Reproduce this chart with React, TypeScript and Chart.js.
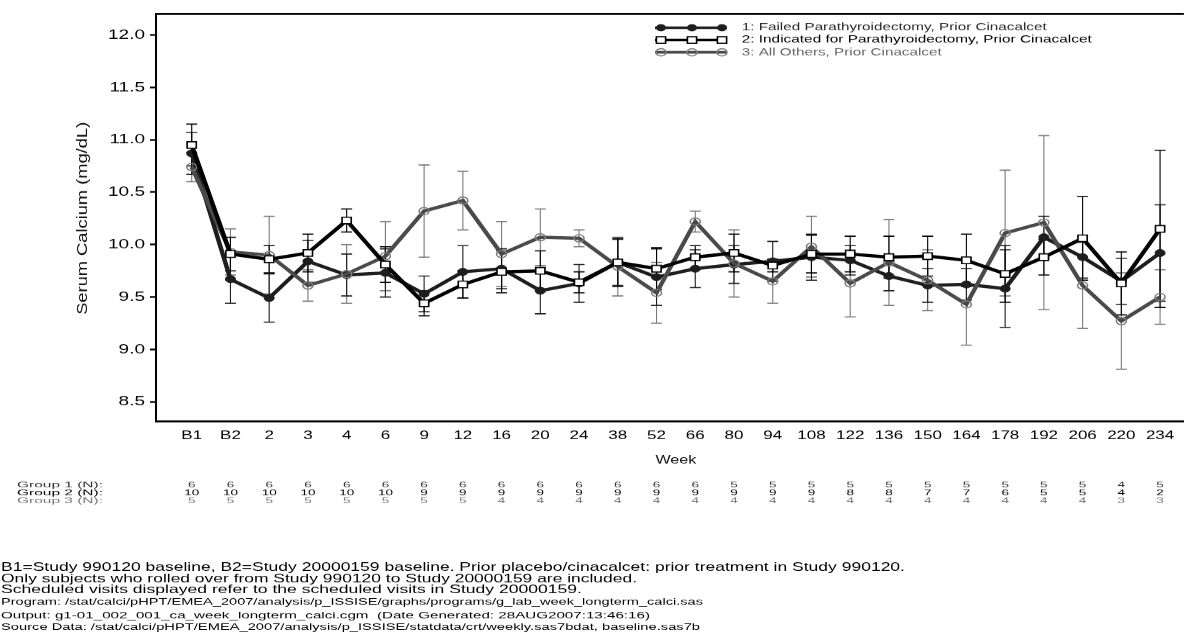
import React, { useEffect, useRef } from 'react';
import { Chart, registerables } from 'chart.js';

Chart.register(...registerables);

// ---------------- data ----------------
const weekLabels = ['B1', 'B2', '2', '3', '4', '6', '9', '12', '16', '20', '24', '38', '52', '66', '80', '94', '108', '122', '136', '150', '164', '178', '192', '206', '220', '234'];

const group1Mean = [10.87, 9.67, 9.49, 9.84, 9.71, 9.73, 9.53, 9.74, 9.77, 9.56, 9.63, 9.83, 9.69, 9.77, 9.81, 9.84, 9.88, 9.85, 9.70, 9.61, 9.62, 9.58, 10.07, 9.88, 9.65, 9.92];
const group2Mean = [10.95, 9.91, 9.86, 9.92, 10.23, 9.81, 9.44, 9.62, 9.74, 9.75, 9.64, 9.83, 9.77, 9.88, 9.92, 9.80, 9.91, 9.91, 9.88, 9.89, 9.85, 9.72, 9.88, 10.06, 9.63, 10.15];
const group3Mean = [10.74, 9.93, 9.90, 9.61, 9.72, 9.89, 10.32, 10.42, 9.91, 10.07, 10.06, 9.79, 9.54, 10.22, 9.82, 9.65, 9.98, 9.63, 9.83, 9.66, 9.43, 10.11, 10.21, 9.61, 9.27, 9.50];

const group1Err = [0.2, 0.23, 0.23, 0.2, 0.2, 0.23, 0.17, 0.25, 0.19, 0.22, 0.18, 0.22, 0.27, 0.18, 0.18, 0.19, 0.22, 0.14, 0.14, 0.16, 0.15, 0.37, 0.2, 0.2, 0.22, 0.46];
const group2Err = [0.2, 0.16, 0.13, 0.18, 0.11, 0.17, 0.12, 0.13, 0.2, 0.19, 0.1, 0.23, 0.2, 0.11, 0.18, 0.06, 0.18, 0.17, 0.2, 0.19, 0.25, 0.27, 0.17, 0.4, 0.3, 0.75];
const group3Err = [0.14, 0.22, 0.37, 0.15, 0.28, 0.33, 0.44, 0.28, 0.31, 0.27, 0.08, 0.28, 0.29, 0.1, 0.32, 0.21, 0.29, 0.32, 0.41, 0.29, 0.39, 0.6, 0.83, 0.41, 0.46, 0.26];

const group1N = [6, 6, 6, 6, 6, 6, 6, 6, 6, 6, 6, 6, 6, 6, 5, 5, 5, 5, 5, 5, 5, 5, 5, 5, 4, 5];
const group2N = [10, 10, 10, 10, 10, 10, 9, 9, 9, 9, 9, 9, 9, 9, 9, 9, 9, 8, 8, 7, 7, 6, 5, 5, 4, 2];
const group3N = [5, 5, 5, 5, 5, 5, 5, 5, 4, 4, 4, 4, 4, 4, 4, 4, 4, 4, 4, 4, 4, 4, 4, 4, 3, 3];

const yTickValues = [8.5, 9.0, 9.5, 10.0, 10.5, 11.0, 11.5, 12.0];

const seriesNames = [
  '1: Failed Parathyroidectomy, Prior Cinacalcet',
  '2: Indicated for Parathyroidectomy, Prior Cinacalcet',
  '3: All Others, Prior Cinacalcet',
];
const nRowLabels = ['Group 1 (N):', 'Group 2 (N):', 'Group 3 (N):'];
const yTitle = 'Serum Calcium (mg/dL)';
const xTitle = 'Week';
const footnotesLarge = [
  'B1=Study 990120 baseline, B2=Study 20000159 baseline. Prior placebo/cinacalcet: prior treatment in Study 990120.',
  'Only subjects who rolled over from Study 990120 to Study 20000159 are included.',
  'Scheduled visits displayed refer to the scheduled visits in Study 20000159.',
];
const footnotesSmall = [
  'Program: /stat/calci/pHPT/EMEA_2007/analysis/p_ISSISE/graphs/programs/g_lab_week_longterm_calci.sas',
  'Output: g1-01_002_001_ca_week_longterm_calci.cgm  (Date Generated: 28AUG2007:13:46:16)',
  'Source Data: /stat/calci/pHPT/EMEA_2007/analysis/p_ISSISE/statdata/crt/weekly.sas7bdat, baseline.sas7b',
];

// ---------------- layout / style ----------------
const W = 1192;
const H_OUT = 632;
const H_IN = 878;
const SQ = H_OUT / H_IN; // vertical squash applied by CSS
const iy = (refY: number) => refY / SQ; // reference y -> internal y

const FONT = "'Liberation Sans', Arial, Helvetica, sans-serif";

const COLORS = {
  g1: '#1e1e1e',
  g2: '#000000',
  g3Line: '#4a4a4a',
  g3Point: '#7c7c7c',
  g3Err: '#7a7a7a',
};

const CHART_TOP = iy(14);
const CHART_BOTTOM = iy(421.7);
const X_AXIS_H = 40;
const X_MIN = -0.922;
const X_MAX = 25.615;

function drawText(
  ctx: CanvasRenderingContext2D,
  text: string,
  x: number,
  y: number,
  size: number,
  color: string,
  align: 'left' | 'center' | 'right',
  targetWidth?: number,
  sx?: number,
) {
  ctx.save();
  ctx.font = `${size}px ${FONT}`;
  ctx.fillStyle = color;
  ctx.textBaseline = 'middle';
  ctx.textAlign = 'left';
  const w = ctx.measureText(text).width;
  const k = targetWidth ? targetWidth / w : sx ?? 1;
  let x0 = x;
  if (align === 'center') x0 = x - (w * k) / 2;
  else if (align === 'right') x0 = x - w * k;
  ctx.translate(x0, y);
  ctx.scale(k, 1);
  ctx.fillText(text, 0, 0);
  ctx.restore();
  return k;
}

function drawMarker(ctx: CanvasRenderingContext2D, kind: number, x: number, y: number) {
  ctx.save();
  if (kind === 0) {
    ctx.fillStyle = COLORS.g1;
    ctx.beginPath();
    ctx.arc(x, y, 5, 0, Math.PI * 2);
    ctx.fill();
  } else if (kind === 1) {
    ctx.fillStyle = '#fff';
    ctx.strokeStyle = COLORS.g2;
    ctx.lineWidth = 1.6;
    ctx.fillRect(x - 4.6, y - 4.6, 9.2, 9.2);
    ctx.strokeRect(x - 4.6, y - 4.6, 9.2, 9.2);
  } else {
    ctx.strokeStyle = COLORS.g3Point;
    ctx.lineWidth = 1.6;
    ctx.beginPath();
    ctx.arc(x, y, 5, 0, Math.PI * 2);
    ctx.stroke();
  }
  ctx.restore();
}

const seriesDefs = [
  { mean: group3Mean, err: group3Err, color: COLORS.g3Err },
  { mean: group1Mean, err: group1Err, color: COLORS.g1 },
  { mean: group2Mean, err: group2Err, color: COLORS.g2 },
];

const errorBarPlugin = {
  id: 'errorBars',
  beforeDatasetsDraw(chart: any) {
    const { ctx, scales } = chart;
    const x = scales.x;
    const y = scales.y;
    seriesDefs.forEach((s) => {
      ctx.save();
      ctx.strokeStyle = s.color;
      s.mean.forEach((m, i) => {
        const px = x.getPixelForValue(i);
        const top = y.getPixelForValue(m + s.err[i]);
        const bot = y.getPixelForValue(m - s.err[i]);
        ctx.lineWidth = 1.1;
        ctx.beginPath();
        ctx.moveTo(px, top);
        ctx.lineTo(px, bot);
        ctx.stroke();
        ctx.lineWidth = 1.6;
        ctx.beginPath();
        ctx.moveTo(px - 5.5, top);
        ctx.lineTo(px + 5.5, top);
        ctx.moveTo(px - 5.5, bot);
        ctx.lineTo(px + 5.5, bot);
        ctx.stroke();
      });
      ctx.restore();
    });
  },
};

const decorPlugin = {
  id: 'decor',
  afterDraw(chart: any) {
    const { ctx, chartArea, scales } = chart;
    const x = scales.x;

    // top frame line
    ctx.save();
    ctx.strokeStyle = '#000';
    ctx.lineWidth = 2.8;
    ctx.beginPath();
    ctx.moveTo(chartArea.left - 1, chartArea.top);
    ctx.lineTo(chartArea.right, chartArea.top);
    ctx.stroke();
    ctx.restore();

    // y-axis title (rotated)
    ctx.save();
    ctx.translate(82.7, iy(218.3));
    ctx.rotate(-Math.PI / 2);
    ctx.font = `15.5px ${FONT}`;
    const tw = ctx.measureText(yTitle).width;
    const k = iy(193) / tw;
    ctx.scale(k, 1);
    ctx.fillStyle = '#111';
    ctx.textAlign = 'center';
    ctx.textBaseline = 'middle';
    ctx.fillText(yTitle, 0, 0);
    ctx.restore();

    // x-axis title
    drawText(ctx, xTitle, (x.getPixelForValue(0) + x.getPixelForValue(weekLabels.length - 1)) / 2, iy(460), 17, '#111', 'center', 41);

    // legend
    const legendY = [iy(27.7), iy(40), iy(52.3)];
    const legendLine = [COLORS.g1, COLORS.g2, COLORS.g3Line];
    const legendText = ['#2a2a2a', '#000', '#666'];
    const legendW = [305, 350, 200];
    legendY.forEach((ly, i) => {
      ctx.save();
      ctx.strokeStyle = legendLine[i];
      ctx.lineWidth = 3.6;
      ctx.beginPath();
      ctx.moveTo(655, ly);
      ctx.lineTo(727, ly);
      ctx.stroke();
      ctx.restore();
      [661, 692, 722].forEach((mx) => drawMarker(ctx, i, mx, ly));
      drawText(ctx, seriesNames[i], 741.7, ly, 14.2, legendText[i], 'left', legendW[i]);
    });

    // N table
    const nRows = [group1N, group2N, group3N];
    const nY = [iy(485), iy(493), iy(501)];
    const nColor = ['#333', '#000', '#777'];
    nRows.forEach((row, r) => {
      drawText(ctx, nRowLabels[r], 17, nY[r], 10.8, nColor[r], 'left', 86);
      row.forEach((n, i) => {
        drawText(ctx, String(n), x.getPixelForValue(i), nY[r], 10, nColor[r], 'center', undefined, 1.35);
      });
    });

    // footnotes
    const bigY = [iy(567.5), iy(578.7), iy(589.7)];
    const smallY = [iy(602.3), iy(615.7), iy(627.3)];
    const k2 = drawText(ctx, footnotesLarge[1], 1, bigY[1], 16.5, '#000', 'left', 636);
    const k3 = drawText(ctx, footnotesLarge[2], 1, bigY[2], 16.5, '#000', 'left', 581);
    drawText(ctx, footnotesLarge[0], 1, bigY[0], 16.5, '#000', 'left', undefined, (k2 + k3) / 2);
    const smallW = [702, 649, 699];
    footnotesSmall.forEach((t, i) => drawText(ctx, t, 1, smallY[i], 13.6, '#000', 'left', smallW[i]));
  },
};

export default function App() {
  const canvasRef = useRef<HTMLCanvasElement | null>(null);

  useEffect(() => {
    const canvas = canvasRef.current;
    if (!canvas) return;
    const pts = (arr: number[]) => arr.map((v, i) => ({ x: i, y: v }));
    const chart = new Chart(canvas, {
      type: 'line',
      data: {
        datasets: [
          {
            label: seriesNames[1],
            data: pts(group2Mean),
            borderColor: COLORS.g2,
            borderWidth: 4.5,
            tension: 0,
            pointStyle: 'rect',
            pointRadius: 6.5,
            pointBackgroundColor: '#fff',
            pointBorderColor: COLORS.g2,
            pointBorderWidth: 1.6,
            order: 0,
          },
          {
            label: seriesNames[2],
            data: pts(group3Mean),
            borderColor: COLORS.g3Line,
            borderWidth: 4.5,
            tension: 0,
            pointStyle: 'circle',
            pointRadius: 5,
            pointBackgroundColor: 'rgba(0,0,0,0)',
            pointBorderColor: COLORS.g3Point,
            pointBorderWidth: 1.6,
            order: 1,
          },
          {
            label: seriesNames[0],
            data: pts(group1Mean),
            borderColor: COLORS.g1,
            borderWidth: 4.5,
            tension: 0,
            pointStyle: 'circle',
            pointRadius: 5,
            pointBackgroundColor: COLORS.g1,
            pointBorderColor: COLORS.g1,
            pointBorderWidth: 1,
            order: 2,
          },
        ],
      },
      options: {
        animation: false,
        responsive: false,
        maintainAspectRatio: false,
        devicePixelRatio: 1,
        events: [],
        layout: {
          padding: { left: 0, right: 0, top: CHART_TOP, bottom: H_IN - CHART_BOTTOM - X_AXIS_H },
        },
        plugins: {
          legend: { display: false },
          tooltip: { enabled: false },
          title: { display: false },
        },
        scales: {
          x: {
            type: 'linear',
            min: X_MIN,
            max: X_MAX,
            afterBuildTicks: (s: any) => {
              s.ticks = weekLabels.map((_, i) => ({ value: i }));
            },
            afterFit: (s: any) => {
              s.height = X_AXIS_H;
            },
            ticks: {
              autoSkip: false,
              maxRotation: 0,
              minRotation: 0,
              padding: 9,
              color: '#000',
              font: { family: FONT, size: 17 },
              callback: (v: any) => weekLabels[Number(v)] ?? '',
            },
            grid: { display: false, drawTicks: false },
            border: { display: true, color: '#000', width: 2.8 },
          },
          y: {
            type: 'linear',
            min: 8.31,
            max: 12.2,
            afterBuildTicks: (s: any) => {
              s.ticks = yTickValues.map((v) => ({ value: v }));
            },
            afterFit: (s: any) => {
              s.width = 156;
            },
            ticks: {
              padding: 5,
              color: '#000',
              font: { family: FONT, size: 19 },
              callback: (v: any) => Number(v).toFixed(1),
            },
            grid: {
              display: true,
              drawOnChartArea: false,
              drawTicks: true,
              tickLength: 6,
              tickWidth: 2.4,
              tickColor: '#000',
            },
            border: { display: true, color: '#000', width: 2 },
          },
        },
      } as any,
      plugins: [errorBarPlugin, decorPlugin],
    });
    return () => chart.destroy();
  }, []);

  return (
    <div
      style={{
        position: 'fixed',
        left: 0,
        top: 0,
        width: W,
        height: H_OUT,
        overflow: 'hidden',
        background: '#fff',
      }}
    >
      <canvas
        ref={canvasRef}
        width={W}
        height={H_IN}
        style={{
          display: 'block',
          width: `${W}px`,
          height: `${H_IN}px`,
          transform: `scaleY(${SQ})`,
          transformOrigin: '0 0',
        }}
      />
    </div>
  );
}
